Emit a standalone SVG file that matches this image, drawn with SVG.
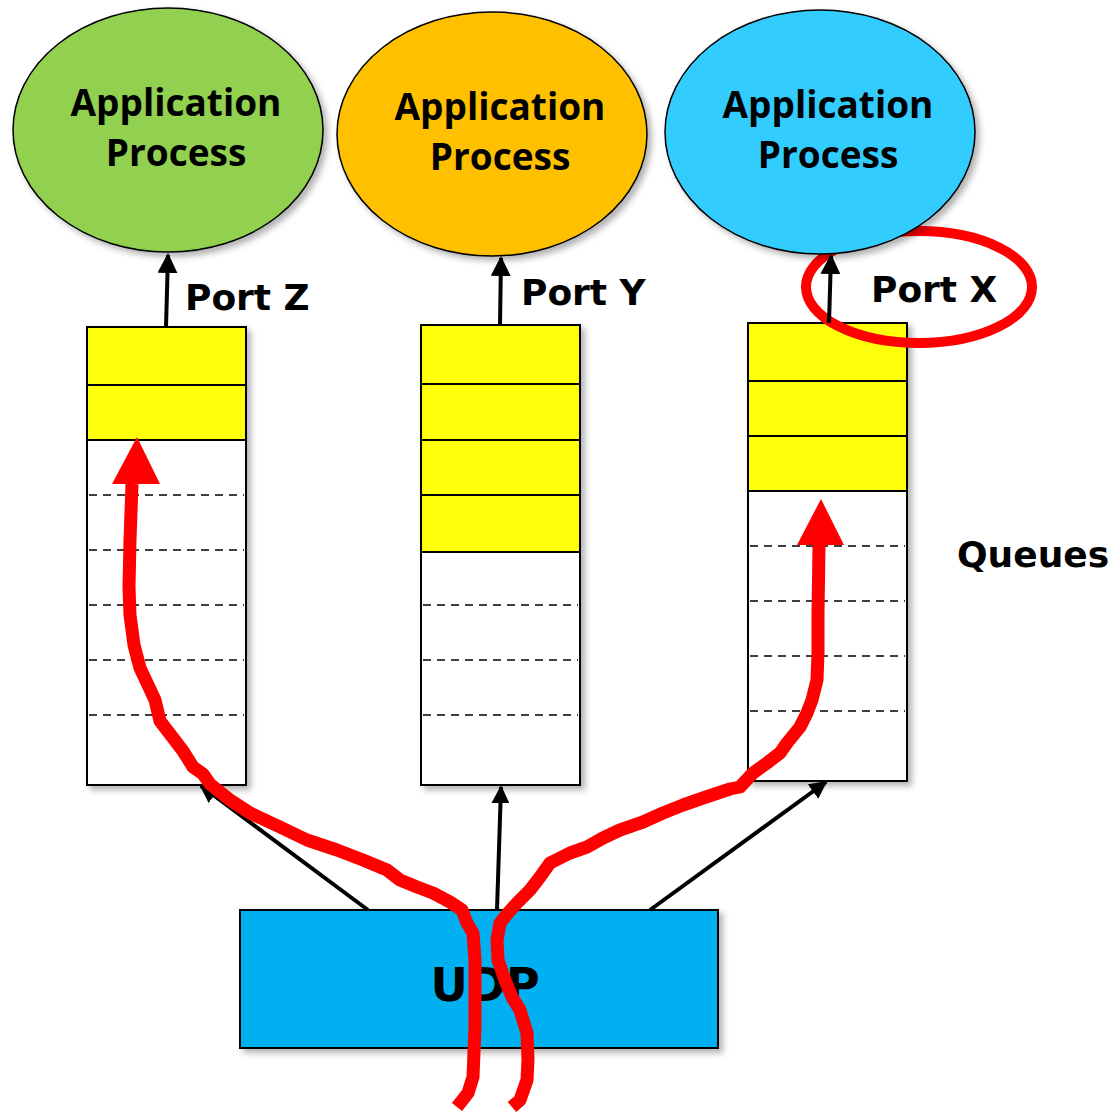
<svg xmlns="http://www.w3.org/2000/svg" width="1118" height="1112" viewBox="0 0 1118 1112">
  <defs>
    <filter id="shadow" x="-10%" y="-10%" width="125%" height="125%">
      <feDropShadow dx="4" dy="4" stdDeviation="3" flood-color="#000" flood-opacity="0.3"/>
    </filter>
    <marker id="arrow" viewBox="0 0 10 10" refX="9" refY="5" markerWidth="5" markerHeight="5" orient="auto" markerUnits="strokeWidth">
      <path d="M0,0 L10,5 L0,10 z" fill="#000"/>
    </marker>
    <marker id="arrowSmall" viewBox="0 0 10 10" refX="9" refY="5" markerWidth="4.5" markerHeight="4.5" orient="auto" markerUnits="strokeWidth">
      <path d="M0,0 L10,5 L0,10 z" fill="#000"/>
    </marker>
  </defs>
  <style>
    .app { stroke: #000; stroke-width: 1.5; filter: url(#shadow); }
    .appText { font-family: "Open Sans", "DejaVu Sans", sans-serif; font-weight: bold; font-size: 37px; fill: #000; text-anchor: middle; }
    .label { font-family: "DejaVu Sans", Verdana, sans-serif; font-weight: bold; font-size: 36px; fill: #000; }
    .udpText { font-family: "DejaVu Sans", Verdana, sans-serif; font-weight: bold; font-size: 46px; fill: #000; text-anchor: middle; }
    .frame { fill: #fff; stroke: #000; stroke-width: 2; filter: url(#shadow); }
    .full { fill: #FFFF0C; stroke: #000; stroke-width: 2; }
    .slot { stroke: #000; stroke-width: 2; }
    .dash { stroke: #000; stroke-width: 1.5; stroke-dasharray: 8 6; }
    .conn { stroke: #000; stroke-width: 4; fill: none; }
    .flow { stroke: #FF0000; stroke-width: 13; fill: none; stroke-linecap: butt; stroke-linejoin: round; }
    .flowHead { fill: #FF0000; }
  </style>

  <rect width="1118" height="1112" fill="#fff"/>

  <!-- queue for port Z -->
  <g id="queue-z">
    <rect class="frame" x="87" y="327" width="159" height="458"/>
    <rect class="full" x="87" y="327" width="159" height="113"/>
    <line class="slot" x1="87" y1="385" x2="246" y2="385"/>
    <line class="dash" x1="89" y1="495" x2="244" y2="495"/>
    <line class="dash" x1="89" y1="550" x2="244" y2="550"/>
    <line class="dash" x1="89" y1="605" x2="244" y2="605"/>
    <line class="dash" x1="89" y1="660" x2="244" y2="660"/>
    <line class="dash" x1="89" y1="715" x2="244" y2="715"/>
  </g>

  <!-- queue for port Y -->
  <g id="queue-y">
    <rect class="frame" x="421" y="325" width="159" height="460"/>
    <rect class="full" x="421" y="325" width="159" height="227"/>
    <line class="slot" x1="421" y1="384" x2="580" y2="384"/>
    <line class="slot" x1="421" y1="440" x2="580" y2="440"/>
    <line class="slot" x1="421" y1="495" x2="580" y2="495"/>
    <line class="dash" x1="423" y1="605" x2="578" y2="605"/>
    <line class="dash" x1="423" y1="660" x2="578" y2="660"/>
    <line class="dash" x1="423" y1="715" x2="578" y2="715"/>
  </g>

  <!-- queue for port X -->
  <g id="queue-x">
    <rect class="frame" x="748" y="323" width="159" height="458"/>
    <rect class="full" x="748" y="323" width="159" height="168"/>
    <line class="slot" x1="748" y1="381" x2="907" y2="381"/>
    <line class="slot" x1="748" y1="436" x2="907" y2="436"/>
    <line class="dash" x1="750" y1="546" x2="905" y2="546"/>
    <line class="dash" x1="750" y1="601" x2="905" y2="601"/>
    <line class="dash" x1="750" y1="656" x2="905" y2="656"/>
    <line class="dash" x1="750" y1="711" x2="905" y2="711"/>
  </g>

  <!-- highlight around port X -->
  <g id="port-x-highlight">
    <ellipse cx="919" cy="287" rx="113" ry="56" fill="none" stroke="#FF0000" stroke-width="10"/>
  </g>

  <!-- application processes -->
  <g id="app-z">
    <ellipse class="app" cx="168" cy="130" rx="155" ry="122" fill="#92D050"/>
    <text class="appText" x="176" y="116">Application</text>
    <text class="appText" x="176" y="166">Process</text>
  </g>
  <g id="app-y">
    <ellipse class="app" cx="492" cy="134" rx="155" ry="122" fill="#FFC000"/>
    <text class="appText" x="500" y="120">Application</text>
    <text class="appText" x="500" y="170">Process</text>
  </g>
  <g id="app-x">
    <ellipse class="app" cx="820" cy="132" rx="155" ry="122" fill="#33CCFF"/>
    <text class="appText" x="828" y="118">Application</text>
    <text class="appText" x="828" y="168">Process</text>
  </g>

  <!-- UDP layer -->
  <g id="udp">
    <rect x="240" y="910" width="478" height="138" fill="#00B0F0" stroke="#000" stroke-width="2" filter="url(#shadow)"/>
    <text class="udpText" x="485" y="1001">UDP</text>
  </g>

  <!-- port labels -->
  <g id="labels">
    <text class="label" x="185" y="310">Port Z</text>
    <text class="label" x="521" y="305">Port Y</text>
    <text class="label" x="871" y="302">Port X</text>
    <text class="label" x="957" y="567">Queues</text>
  </g>

  <!-- connectors -->
  <g id="connectors">
    <line class="conn" x1="166" y1="327" x2="168" y2="255" marker-end="url(#arrow)"/>
    <line class="conn" x1="500" y1="325" x2="501" y2="258" marker-end="url(#arrow)"/>
    <line class="conn" x1="829" y1="323" x2="831" y2="256" marker-end="url(#arrow)"/>
    <line class="conn" x1="368" y1="910" x2="201" y2="786" marker-end="url(#arrowSmall)"/>
    <line class="conn" x1="497" y1="910" x2="501" y2="787" marker-end="url(#arrowSmall)"/>
    <line class="conn" x1="650" y1="910" x2="826" y2="782" marker-end="url(#arrowSmall)"/>
  </g>

  <!-- datagram paths from UDP to the queues -->
  <g id="flows">
    <polyline class="flow" points="457,1107 468,1093 473,1077 475,1027 475,960 473,933 467,923 462,910 450,902 433,893 417,887 400,880 387,870 363,860 337,850 307,840 280,827 250,813 230,800 210,784 203,774 193,767 183,751 170,734 160,721 155,700 148,685 140,668 134,645 130,615 129,587 130,540 132,484"/>
    <polygon class="flowHead" points="137,437 160,484 112,484"/>
    <polyline class="flow" points="512,1107 520,1100 527,1080 528,1060 527,1033 520,1010 512,997 505,980 498,960 497,940 500,923 508,913 517,903 530,890 540,877 550,863 560,858 570,853 587,847 603,838 620,830 643,822 663,813 683,805 703,798 730,789 740,787 753,773 767,763 780,753 787,743 800,727 807,713 812,700 817,680 818,653 818,613 819,545"/>
    <polygon class="flowHead" points="821,499 844,545 797,545"/>
  </g>
</svg>
